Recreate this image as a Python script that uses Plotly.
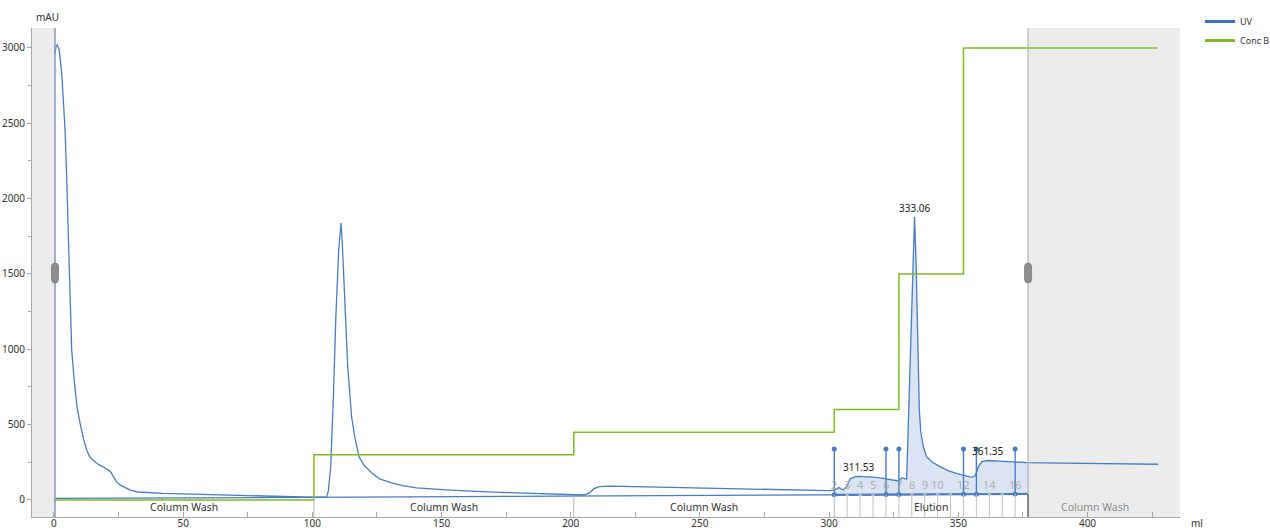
import numpy as np
import plotly.graph_objects as go

# UV absorbance trace (ml, mAU)
uv_ml = [0.4, 0.8, 1.3, 2.0, 3.0, 3.6, 4.3, 4.9, 5.5, 6.2, 6.85, 7.9, 8.9, 10.1, 11.5, 12.7,
         13.9, 15.5, 17.2, 19.0, 20.5, 21.8, 23.0, 24.2, 25.5, 27.5, 29.5, 32.5, 37, 42, 50,
         60, 70, 80, 90, 100, 104.5, 105.5, 106.2, 107.1, 108.1, 109.1, 110.2, 111.1, 111.6,
         112.1, 112.6, 113.7, 115.2, 116.5, 118.1, 120, 122.9, 126, 130.7, 135, 140.4, 147,
         153.3, 170, 190, 200, 205, 207, 209, 211, 215, 220, 240, 260, 280, 300, 302, 303.8,
         305.4, 306.8, 308.1, 310.1, 311.53, 314.5, 318, 320.8, 324, 326.9, 328.1, 329.7,
         330.0, 330.3, 330.7, 331.5, 332.3, 333.06, 333.7, 334.3, 334.9, 335.5, 336.5, 337.7,
         340, 342.9, 346, 349.3, 351.9, 353.5, 355.2, 356.5, 357.2, 357.8, 359.1, 361.35, 366,
         371.9, 376.4, 390, 410, 427.3]
uv_mau = [2960, 3010, 3020, 2990, 2833, 2680, 2455, 2150, 1792, 1380, 1000, 780, 620, 510, 400,
          330, 285, 258, 236, 220, 206, 190, 155, 122, 100, 80, 65, 53, 47, 44, 40, 35, 30, 26,
          22, 18, 18, 20, 60, 219, 663, 1215, 1659, 1838, 1700, 1520, 1327, 883, 551, 410, 285,
          230, 180, 140, 113, 95, 80, 72, 66, 52, 40, 33, 33, 45, 75, 88, 92, 90, 82, 75, 68,
          62, 65, 82, 66, 88, 139, 155, 157, 155, 150, 144, 136, 126, 146, 139, 140, 300, 530,
          1060, 1500, 1880, 1550, 1060, 600, 450, 350, 287, 250, 221, 195, 177, 166, 155, 150,
          160, 190, 221, 254, 262, 258, 254, 248, 245, 241, 237]

# Concentration of buffer B, step gradient (%)
conc_ml = [0.4, 100.6, 201.2, 302, 327, 352, 427]
conc_pct = [0, 10, 15, 20, 50, 100, 100]

# Integration baseline (ml, mAU)
base_ml = [0.4, 377]
base_mau = [10, 40]

# Peak retention labels
peak_ml = [311.53, 333.06, 361.35]

# Fractions
frac_start = 302
frac_width = 5
frac_count = 15
frac_numbers = [2, 3, 4, 5, 6, 7, 8, 9, 10, 12, 14, 16]
frac_marks = [302, 322, 327, 352, 357, 372]
frac_mark_top = 338

# Run phases
phase_names = ["Column Wash", "Column Wash", "Column Wash", "Elution", "Column Wash"]
phase_bounds = [0.4, 100.6, 201.2, 302, 377, 429]

X_RANGE = [-8.5, 435.8]
Y_RANGE = [-113, 3132]
UV_COLOR = "#4a7cc0"
GREEN = "#7cbb26"
FONT = "Noto Sans"

fig = go.Figure()

# Shaded regions outside the evaluated window
shapes = [
    dict(type="rect", xref="x", yref="paper", x0=X_RANGE[0], x1=phase_bounds[0], y0=0, y1=1,
         fillcolor="#ececec", line_width=0, layer="below"),
    dict(type="rect", xref="x", yref="paper", x0=phase_bounds[4], x1=X_RANGE[1], y0=0, y1=1,
         fillcolor="#ececec", line_width=0, layer="below"),
    dict(type="line", xref="x", yref="paper", x0=phase_bounds[0], x1=phase_bounds[0], y0=0, y1=1,
         line=dict(color="#8597b8", width=1.5)),
    dict(type="line", xref="x", yref="paper", x0=phase_bounds[4], x1=phase_bounds[4], y0=0, y1=1,
         line=dict(color="#b4b4b4", width=1.2)),
]
# window drag handles
handle = "M -3.5,-6 Q -3.5,-10 0,-10 Q 3.5,-10 3.5,-6 L 3.5,6 Q 3.5,10 0,10 Q -3.5,10 -3.5,6 Z"
for hx in (phase_bounds[0], phase_bounds[4]):
    shapes.append(dict(type="path", xref="x", yref="y", xsizemode="pixel", ysizemode="pixel",
                       xanchor=hx, yanchor=1506, path=handle,
                       fillcolor="#8e8e8e", line=dict(color="#7a7a7a", width=0.8)))
# phase separators
for b in phase_bounds[1:4]:
    shapes.append(dict(type="line", xref="x", yref="y", x0=b, x1=b, y0=Y_RANGE[0],
                       y1=float(np.interp(b, base_ml, base_mau)),
                       line=dict(color="#b8b8b8", width=1)))
shapes.append(dict(type="line", xref="x", yref="y", x0=phase_bounds[4], x1=phase_bounds[4],
                   y0=Y_RANGE[0], y1=40, line=dict(color="#707070", width=1.5)))
# fraction tick lines
frac_edges = [frac_start + i * frac_width for i in range(frac_count + 1)]
for e in frac_edges[1:-1]:
    shapes.append(dict(type="line", xref="x", yref="y", x0=e, x1=e, y0=Y_RANGE[0],
                       y1=float(np.interp(e, base_ml, base_mau)),
                       line=dict(color="#c4c4c4", width=1)))
fig.update_layout(shapes=shapes)

# Integration baseline
fig.add_trace(go.Scatter(x=base_ml, y=base_mau, mode="lines",
                         line=dict(color=UV_COLOR, width=1.3), showlegend=False, hoverinfo="skip"))

# Filled area of the integrated elution peaks
fill_x = [x for x in uv_ml if frac_edges[0] < x < frac_edges[-1]]
fill_x = [frac_edges[0]] + fill_x + [frac_edges[-1]]
fill_uv = np.interp(fill_x, uv_ml, uv_mau)
fill_base = np.interp(fill_x, base_ml, base_mau)
fig.add_trace(go.Scatter(x=fill_x, y=fill_base, mode="lines", line=dict(width=0),
                         showlegend=False, hoverinfo="skip"))
fig.add_trace(go.Scatter(x=fill_x, y=fill_uv, mode="lines", line=dict(width=0),
                         fill="tonexty", fillcolor="rgba(88,130,200,0.22)",
                         showlegend=False, hoverinfo="skip"))

# UV curve
fig.add_trace(go.Scatter(x=uv_ml, y=uv_mau, mode="lines", name="UV",
                         line=dict(color=UV_COLOR, width=1.3), showlegend=False))

# Conc B on a hidden percentage axis scaled to the mAU axis
fig.add_trace(go.Scatter(x=conc_ml, y=conc_pct, mode="lines", name="Conc B", yaxis="y2",
                         line=dict(color=GREEN, width=1.5, shape="hv"), showlegend=False))

# Fraction bar along the baseline
bar_y = np.interp([frac_edges[0], frac_edges[-1]], base_ml, base_mau)
fig.add_trace(go.Scatter(x=[frac_edges[0], frac_edges[-1]], y=bar_y, mode="lines",
                         line=dict(color=UV_COLOR, width=2.2), showlegend=False, hoverinfo="skip"))
fig.add_trace(go.Scatter(x=frac_edges[1:-1], y=np.interp(frac_edges[1:-1], base_ml, base_mau),
                         mode="markers", marker=dict(color="#b0b8c8", size=3.5),
                         showlegend=False, hoverinfo="skip"))
# Fraction markers
mx, my = [], []
for m in frac_marks:
    mx += [m, m, None]
    my += [float(np.interp(m, base_ml, base_mau)), frac_mark_top, None]
fig.add_trace(go.Scatter(x=mx, y=my, mode="lines+markers",
                         line=dict(color=UV_COLOR, width=1.4),
                         marker=dict(color=UV_COLOR, size=5),
                         showlegend=False, hoverinfo="skip"))

# Legend entries
fig.add_trace(go.Scatter(x=[None], y=[None], mode="lines", name="UV",
                         line=dict(color="#3f6fc2", width=3)))
fig.add_trace(go.Scatter(x=[None], y=[None], mode="lines", name="Conc B",
                         line=dict(color=GREEN, width=3)))

annotations = []
# Peak labels
for p in peak_ml:
    annotations.append(dict(x=p, y=float(np.interp(p, uv_ml, uv_mau)), text=f"{p:.2f}",
                            showarrow=False, yanchor="bottom", xanchor="center",
                            font=dict(size=10, color="#222222", family=FONT)))
# Fraction numbers
for n in frac_numbers:
    annotations.append(dict(x=frac_start + (n - 2) * frac_width, y=106, text=str(n),
                            showarrow=False, font=dict(size=11, color="#b0b0b0", family=FONT)))
# Phase names
for i, name in enumerate(phase_names):
    cx = (phase_bounds[i] + phase_bounds[i + 1]) / 2
    col = "#8a8a8a" if i == len(phase_names) - 1 else "#333333"
    annotations.append(dict(x=cx, y=-46, text=name, showarrow=False,
                            font=dict(size=10.5, color=col, family=FONT)))
# Axis titles
annotations.append(dict(xref="paper", yref="paper", x=(47 - 32) / 1148, y=1 + (28 - 17) / 489,
                        xanchor="center", yanchor="middle",
                        text="mAU", showarrow=False, font=dict(size=10, color="#333333", family=FONT)))
annotations.append(dict(xref="paper", yref="paper", x=(1197 - 32) / 1148, y=-(523 - 517) / 489,
                        xanchor="center", yanchor="middle",
                        text="ml", showarrow=False, font=dict(size=10, color="#333333", family=FONT)))

fig.update_layout(
    width=1270, height=531, autosize=False,
    margin=dict(l=32, r=90, t=28, b=14, autoexpand=False),
    paper_bgcolor="white", plot_bgcolor="white",
    font=dict(family=FONT, size=10, color="#333333"),
    annotations=annotations,
    xaxis=dict(range=X_RANGE, showgrid=False, zeroline=False, showline=True, automargin=False,
               linecolor="#a8a8a8", linewidth=1, tickvals=list(range(0, 401, 50)),
               ticks="inside", ticklen=5, tickcolor="#a8a8a8", ticklabelstandoff=-3,
               minor=dict(tickvals=list(range(25, 426, 50)), ticks="inside", ticklen=5,
                          tickcolor="#a8a8a8"),
               tickfont=dict(size=10, color="#333333")),
    yaxis=dict(range=Y_RANGE, showgrid=False, zeroline=False, showline=True, automargin=False,
               linecolor="#a8a8a8", linewidth=1, tickvals=list(range(0, 3001, 500)),
               ticks="outside", ticklen=4, tickcolor="#a8a8a8",
               minor=dict(tickvals=list(range(250, 3001, 500)), ticks="outside", ticklen=3,
                          tickcolor="#a8a8a8"),
               tickfont=dict(size=10, color="#333333")),
    yaxis2=dict(range=[Y_RANGE[0] / 30, Y_RANGE[1] / 30], overlaying="y", visible=False,
                automargin=False),
    legend=dict(x=(1200 - 32) / 1148, y=1 + (28 - 7) / 489, xanchor="left", yanchor="top",
                font=dict(size=9, color="#333333", family=FONT), bgcolor="rgba(0,0,0,0)",
                tracegroupgap=0, traceorder="normal"),
)

fig.write_html("out.html")
